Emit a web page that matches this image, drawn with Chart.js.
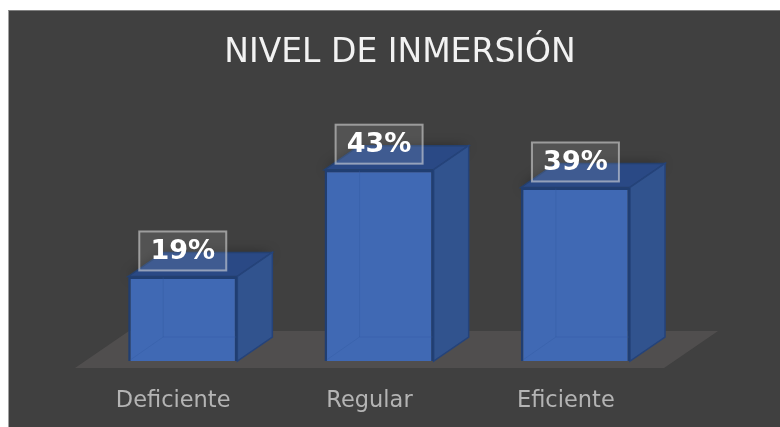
<!DOCTYPE html>
<html><head><meta charset="utf-8">
<script src="https://cdn.jsdelivr.net/npm/chart.js@4/dist/chart.umd.js"></script>
<style>
html,body{margin:0;padding:0;background:#fff;width:780px;height:427px;overflow:hidden}
#bg{position:absolute;left:8px;top:10px;width:772px;height:417px;background:#404040;box-sizing:border-box;border-left:1px solid #a0a0a0;border-top:1px solid #808080}
#wrap{position:absolute;left:0;top:0;width:780px;height:427px;filter:blur(0.5px)}
</style></head><body>
<div id="bg"></div>
<div id="wrap"><canvas id="c" width="780" height="427"></canvas></div>
<script>
const categories = ['Deficiente', 'Regular', 'Eficiente'];
const values = [19, 43, 39];
const valueLabels = ['19%', '43%', '39%'];
const chartTitle = 'NIVEL DE INMERSIÓN';

const DEPTH_X = 35, DEPTH_Y = 24, SHIFT_X = 9.6;

function poly(ctx, pts, fill, stroke, lw) {
  ctx.beginPath();
  pts.forEach((p, i) => i ? ctx.lineTo(p[0], p[1]) : ctx.moveTo(p[0], p[1]));
  ctx.closePath();
  if (fill) { ctx.fillStyle = fill; ctx.fill(); }
  if (stroke) { ctx.strokeStyle = stroke; ctx.lineWidth = lw || 1; ctx.stroke(); }
}

const box3d = {
  id: 'box3d',
  beforeDatasetsDraw(chart) {
    const { ctx, chartArea: a } = chart;
    const floorFront = a.bottom + 7, floorBack = a.bottom - 30;
    poly(ctx, [[a.left, floorFront], [a.right, floorFront], [a.right + 54, floorBack], [a.left + 54, floorBack]], '#504e4e');
    const meta = chart.getDatasetMeta(0);
    ctx.save();
    ctx.translate(SHIFT_X, 0);
    meta.data.forEach(bar => {
      const hw = bar.width / 2, l = bar.x - hw, r = bar.x + hw, t = bar.y, b = bar.base;
      ctx.save();
      ctx.shadowColor = 'rgba(0,0,0,0.35)';
      ctx.shadowBlur = 12;
      poly(ctx, [[l, t], [r, t], [r + DEPTH_X, t - DEPTH_Y], [l + DEPTH_X, t - DEPTH_Y]], '#2a4985');
      ctx.restore();
      poly(ctx, [[l, t], [r, t], [r + DEPTH_X, t - DEPTH_Y], [l + DEPTH_X, t - DEPTH_Y]], '#2a4985', '#24406f', 1.5);
      poly(ctx, [[r, t], [r + DEPTH_X, t - DEPTH_Y], [r + DEPTH_X, b - DEPTH_Y], [r, b]], '#31538e', '#25437a', 1.5);
    });
    ctx.restore();
    ctx.save();
    ctx.translate(SHIFT_X, 0);
  },
  afterDatasetsDraw(chart) {
    const { ctx } = chart;
    const meta = chart.getDatasetMeta(0);
    meta.data.forEach(bar => {
      const hw = bar.width / 2, l = bar.x - hw, r = bar.x + hw, t = bar.y, b = bar.base;
      ctx.strokeStyle = 'rgba(50,90,160,0.35)';
      ctx.lineWidth = 1;
      ctx.beginPath();
      ctx.moveTo(l + DEPTH_X, t + 1);
      ctx.lineTo(l + DEPTH_X, b - DEPTH_Y);
      ctx.lineTo(l + 2, b - 1);
      ctx.moveTo(l + DEPTH_X, b - DEPTH_Y);
      ctx.lineTo(r - 1, b - DEPTH_Y);
      ctx.stroke();
    });
    ctx.restore();
    meta.data.forEach((bar, i) => {
      const cx = bar.x + SHIFT_X, boxW = 87, boxH = 39, bottom = bar.y - 6;
      ctx.fillStyle = 'rgba(255,255,255,0.1)';
      ctx.fillRect(cx - boxW / 2, bottom - boxH, boxW, boxH);
      ctx.strokeStyle = 'rgba(225,225,225,0.55)';
      ctx.lineWidth = 2;
      ctx.strokeRect(cx - boxW / 2, bottom - boxH, boxW, boxH);
      ctx.fillStyle = '#ffffff';
      ctx.font = 'bold 27px "DejaVu Sans"';
      ctx.textAlign = 'center';
      ctx.textBaseline = 'middle';
      ctx.fillText(valueLabels[i], cx, bottom - boxH / 2 + 1);
    });
  }
};

new Chart(document.getElementById('c'), {
  type: 'bar',
  data: {
    labels: categories,
    datasets: [{
      data: values,
      yAxisID: 'y',
      backgroundColor: '#4069b4',
      borderColor: '#203e72',
      borderWidth: 2.5,
      barPercentage: 0.556,
      categoryPercentage: 1,
      clip: false
    }]
  },
  options: {
    responsive: false,
    animation: false,
    events: [],
    layout: { padding: { left: 20, right: 0, top: 0, bottom: 0 } },
    plugins: {
      legend: { display: false },
      tooltip: { enabled: false },
      title: {
        display: true,
        text: chartTitle,
        color: '#f2f2f2',
        font: { family: '"DejaVu Sans"', size: 33, weight: 'normal' },
        padding: { top: 34, bottom: 24 }
      }
    },
    scales: {
      x: {
        grid: { display: false },
        border: { display: false },
        ticks: { color: '#b4b4b4', font: { family: '"DejaVu Sans"', size: 22.5 }, padding: 19, maxRotation: 0 },
        afterFit(s) { s.height = 66; }
      },
      y: {
        min: 0, max: 59.2,
        grid: { display: false },
        border: { display: false },
        ticks: { display: false },
        afterFit(s) { s.width = 55; }
      },
      y2: {
        position: 'right',
        grid: { display: false },
        border: { display: false },
        ticks: { display: false },
        afterFit(s) { s.width = 116; }
      }
    }
  },
  plugins: [box3d]
});
</script>
</body></html>
